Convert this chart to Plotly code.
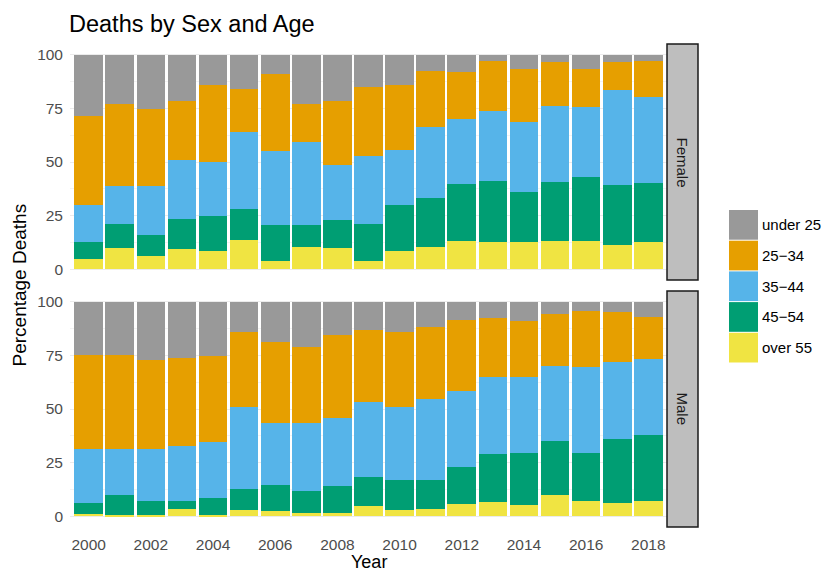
import plotly.graph_objects as go
from plotly.subplots import make_subplots

years = list(range(2000, 2019))
categories = ["over 55", "45\u221254", "35\u221244", "25\u221234", "under 25"]
legend_order = ["under 25", "25\u221234", "35\u221244", "45\u221254", "over 55"]
colors = {"under 25": "#999999", "25\u221234": "#E69F00", "35\u221244": "#56B4E9",
          "45\u221254": "#009E73", "over 55": "#F0E442"}

# Female percentages by age group
female_over55 = [5.0, 9.9, 6.2, 9.5, 8.4, 13.8, 3.9, 10.5, 9.9, 3.9, 8.4, 10.5, 13.3, 12.9, 12.9, 13.3, 13.3, 11.5, 12.9]
female_45_54 = [7.7, 11.0, 9.8, 14.1, 16.4, 14.1, 16.6, 10.0, 13.2, 17.0, 21.4, 22.5, 26.4, 28.2, 23.2, 27.3, 29.6, 27.7, 27.1]
female_35_44 = [17.1, 17.9, 22.8, 27.3, 25.1, 36.1, 34.5, 38.9, 25.6, 32.1, 26.0, 33.4, 30.5, 32.5, 32.4, 35.4, 32.8, 44.2, 40.3]
female_25_34 = [41.5, 38.3, 35.9, 27.7, 36.1, 20.0, 36.0, 17.7, 29.9, 32.0, 30.2, 25.8, 21.7, 23.3, 24.8, 20.4, 17.6, 13.0, 16.9]
female_under25 = [28.7, 22.9, 25.3, 21.4, 14.0, 16.0, 9.0, 22.9, 21.4, 15.0, 14.0, 7.8, 8.1, 3.1, 6.7, 3.6, 6.7, 3.6, 2.8]

# Male percentages by age group
male_over55 = [1.2, 0.8, 0.8, 3.4, 0.6, 2.8, 2.3, 1.6, 1.6, 4.7, 3.1, 3.6, 5.6, 6.7, 5.1, 9.7, 6.9, 6.4, 7.3]
male_45_54 = [5.0, 9.3, 6.5, 3.9, 8.0, 10.1, 12.2, 10.1, 12.4, 13.7, 13.6, 13.5, 17.3, 22.1, 24.5, 25.2, 22.7, 29.7, 30.4]
male_35_44 = [25.3, 21.4, 24.2, 25.3, 26.1, 37.9, 29.1, 31.9, 31.6, 35.0, 34.4, 37.4, 35.5, 36.2, 35.4, 35.2, 40.0, 35.6, 35.5]
male_25_34 = [43.6, 43.6, 41.4, 41.4, 39.8, 34.9, 37.7, 35.4, 38.8, 33.2, 34.9, 33.8, 33.2, 27.2, 26.1, 24.4, 26.2, 23.3, 19.8]
male_under25 = [24.9, 24.9, 27.1, 26.0, 25.5, 14.3, 18.7, 21.0, 15.6, 13.4, 14.0, 11.7, 8.4, 7.8, 8.9, 5.5, 4.2, 5.0, 7.0]

female = [female_over55, female_45_54, female_35_44, female_25_34, female_under25]
male = [male_over55, male_45_54, male_35_44, male_25_34, male_under25]
panels = ["Female", "Male"]

W, H = 823, 573
ML, MR, MT, MB = 70, 156, 44, 46
PW, PH = W - ML - MR, H - MT - MB

def px_x(x):
    return (x - ML) / PW

def px_y(y):
    return (H - MB - y) / PH

FONT = "Liberation Sans, Arial, sans-serif"

fig = make_subplots(rows=2, cols=1, shared_xaxes=True, vertical_spacing=11 / PH)

for row, data in enumerate([female, male], start=1):
    for cat, vals in zip(categories, data):
        fig.add_trace(go.Bar(x=years, y=vals, name=cat, marker=dict(color=colors[cat], line=dict(width=0)),
                             showlegend=False), row=row, col=1)

fig.update_layout(barmode="stack", bargap=0.08, width=W, height=H,
                  margin=dict(l=ML, r=MR, t=MT, b=MB),
                  plot_bgcolor="white", paper_bgcolor="white",
                  font=dict(family=FONT, size=15, color="#4D4D4D"))

for r in (1, 2):
    fig.update_yaxes(range=[-5, 105], tickvals=[0, 25, 50, 75, 100], showgrid=True, gridcolor="#EBEBEB",
                     gridwidth=1, zeroline=False, showline=False, ticks="", ticklabelstandoff=6,
                     tickfont=dict(size=15.5, color="#4D4D4D"),
                     minor=dict(tickvals=[12.5, 37.5, 62.5, 87.5], showgrid=True, gridcolor="#F3F3F3"),
                     row=r, col=1)
    fig.update_xaxes(range=[1999.4, 2018.6], tickvals=list(range(2000, 2019, 2)), showgrid=False,
                     zeroline=False, showline=False, ticks="", ticklabelstandoff=6,
                     tickfont=dict(size=15.5, color="#4D4D4D"), row=r, col=1)

shapes = []
annotations = []
# strips
strip_px = [(44, 280), (291, 527)]
for (y0, y1), name in zip(strip_px, panels):
    shapes.append(dict(type="rect", xref="paper", yref="paper", x0=px_x(667), x1=px_x(698),
                       y0=px_y(y1), y1=px_y(y0), fillcolor="#BEBEBE", line=dict(color="#1A1A1A", width=1.5)))
    annotations.append(dict(xref="paper", yref="paper", x=px_x(682.5), y=px_y((y0 + y1) / 2), text=name,
                            textangle=90, showarrow=False, font=dict(size=15, color="#1A1A1A"),
                            xanchor="center", yanchor="middle"))

# legend
key_top = 210
step = 30.7
for i, cat in enumerate(legend_order):
    t = key_top + i * step
    shapes.append(dict(type="rect", xref="paper", yref="paper", x0=px_x(729), x1=px_x(758),
                       y0=px_y(t + step - 1), y1=px_y(t), fillcolor=colors[cat], line=dict(width=0)))
    annotations.append(dict(xref="paper", yref="paper", x=px_x(760), y=px_y(t + step / 2 - 0.5), text=cat,
                            showarrow=False, xanchor="left", yanchor="middle",
                            font=dict(size=15, color="#000000")))

# axis titles and title
annotations.append(dict(xref="paper", yref="paper", x=px_x(368.5), y=px_y(562), text="Year", showarrow=False,
                        xanchor="center", yanchor="middle", font=dict(size=18, color="#000000")))
annotations.append(dict(xref="paper", yref="paper", x=px_x(19), y=px_y(285.5), text="Percentage Deaths",
                        textangle=-90, showarrow=False, xanchor="center", yanchor="middle",
                        font=dict(size=19, color="#000000")))
annotations.append(dict(xref="paper", yref="paper", x=px_x(67), y=px_y(24), text="Deaths by Sex and Age",
                        showarrow=False, xanchor="left", yanchor="middle", font=dict(size=23.5, color="#000000")))

fig.update_layout(shapes=shapes, annotations=annotations)
fig.write_html("out.html", config={"displayModeBar": False},
               post_script="document.body.style.margin='0';document.body.style.overflow='hidden';")
